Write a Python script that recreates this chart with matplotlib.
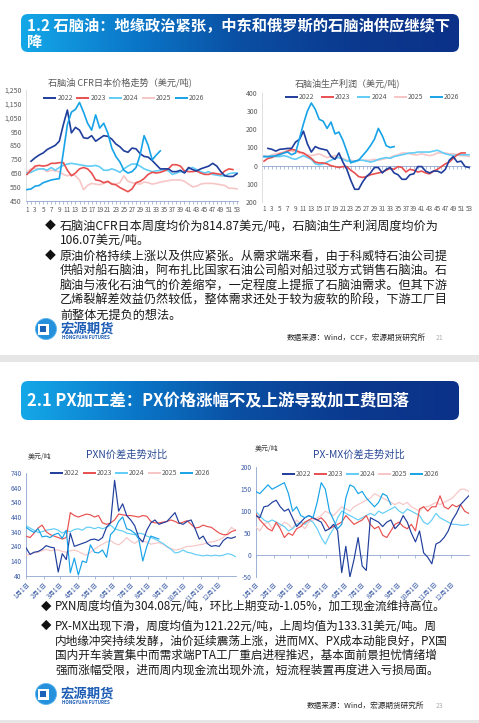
import numpy as np
import matplotlib
matplotlib.use('Agg')
import matplotlib.pyplot as plt
from matplotlib.colors import LinearSegmentedColormap
from matplotlib.patches import Rectangle, Circle, FancyBboxPatch
from matplotlib.transforms import blended_transform_factory

plt.rcParams['font.family'] = ['Noto Sans CJK SC', 'DejaVu Sans']
plt.rcParams['axes.unicode_minus'] = False

# ---------------- DATA ----------------
years = ['2022', '2023', '2024', '2025', '2026']
year_colors = {'2022': '#1f3e9c', '2023': '#e8504f', '2024': '#62cdf6',
               '2025': '#f7c6c6', '2026': '#17a3e8'}

# Naphtha CFR Japan weekly price (USD/t), weeks 1..53
cfr_2022 = [np.nan, 735, 760, 780, 795, 820, 835, 850, 880, 1000, 1105, 940, 980, 960, 905, 900, 920, 880,
            900, 920, 915, 895, 860, 840, 810, 800, 830, 825, 790, 770, 765, 740, 710, 680, 680, 680, 660,
            660, 670, 650, 690, 675, 665, 680, 690, 700, 720, 700, 660, 630, 625, 625, 645]
cfr_2023 = [640, 670, 700, 705, 700, 705, 720, 720, 725, 725, 670, 630, 650, 680, 690, 680, 650, 600, 595,
            580, 590, 570, 565, 545, 530, 515, 535, 580, 590, 610, 640, 655, 650, 655, 665, 680, 710, 710,
            700, 665, 660, 660, 665, 650, 640, 640, 650, 645, 640, 665, 680, 675, np.nan]
cfr_2024 = [650, 655, 670, 680, 680, 670, 690, 670, 690, 705, 715, 720, 715, 710, 705, 700, 700, 705, 695,
            670, 670, 680, 670, 655, 680, 700, 715, 715, 700, 680, 670, 660, 665, 670, 675, 665, 640, 650,
            660, 655, 680, 690, 675, 660, 650, 660, 640, 635, 630, 630, 645, 650, 650]
cfr_2025 = [660, 680, 685, 680, 680, 660, 670, 665, 660, 640, 630, 640, 630, 600, 530, 560, 575, 570, 565,
            575, 585, 575, 570, 580, 630, 590, 580, 575, 570, 585, 580, 570, 575, 585, 590, 595, 600, 600,
            600, 590, 570, 550, 555, 570, 575, 575, 575, 570, 565, 560, 540, 540, 535]
cfr_2026 = [530, 535, 555, 560, 580, 590, 600, 605, 610, 800, 1000, 1090, 1110, 1160, 1090, 1010, 960,
            1070, 975, 1010, 940, 830, 770, 730, 670, 650, 660, 690, 780, 920, 850, 745, 780, 810]

# Naphtha production profit weekly (USD/t), weeks 1..53
pf_2022 = [np.nan, 95, 90, 80, 90, 92, 95, 95, 130, 145, 190, 120, 75, 105, 95, 90, 85, 50, 35, 70, 20,
           -20, -80, -130, -130, -90, -60, -40, -10, -10, -40, -20, -10, -40, -50, -75, -75, -50, -45, -5,
           -5, -30, -40, -30, -30, -40, -20, 30, 50, 20, 25, -5, -10]
pf_2023 = [25, 40, 45, 55, 65, 70, 80, 90, 85, 75, 70, 55, 40, 20, 15, 15, 10, 0, -5, -10, -5, -5, -25,
           -40, -60, -65, -60, -50, -45, -40, -35, -25, -15, -20, -5, -10, -35, -20, -25, -35, -30, -40,
           -45, -30, -20, -5, 10, 20, 40, 60, 70, 70, np.nan]
pf_2024 = [50, 50, 55, 50, 50, 55, 50, 40, 35, 45, 55, 45, 35, 10, 5, 10, 20, 30, 40, 45, 35, 25, 25, 20,
           30, 30, 25, 20, 25, 35, 40, 45, 40, 50, 55, 60, 65, 70, 70, 75, 75, 75, 75, 80, 85, 75, 65, 60,
           55, 60, 60, 60, 60]
pf_2025 = [55, 50, 60, 65, 70, 75, 85, 80, 75, 70, 65, 60, 55, 60, 65, 55, 45, 50, 55, 45, 40, 30, 30, 25,
           30, 30, 30, 30, 35, 30, 35, 40, 45, 55, 60, 70, 70, 65, 60, 60, 65, 60, 55, 60, 70, 70, 70, 65,
           65, 60, 55, 55, 50]
pf_2026 = [50, 50, 50, 55, 60, 70, 75, 60, 70, 150, 230, 300, 345, 310, 255, 245, 205, 240, 175, 185, 140,
           80, 15, 25, 30, 55, 80, 110, 145, 205, 165, 110, 100, 105]

# PXN spread (weekly readings across the year)
pxn_2022 = [230, 185, 200, 205, 220, 245, 235, 230, 65, 190, 150, 330, 240, 250, 260, 270, 285, 290, 280,
            300, 370, 400, 690, 480, 530, 450, 420, 380, 300, 270, 350, 400, 420, 390, 400, 410, 440, 470,
            400, 390, 410, 420, 360, 290, 310, 260, 240, 245, 240, 280, 300, 295, 305]
pxn_2023 = [310, 300, 330, 365, 385, 340, 320, 310, 300, 290, 300, 470, 450, 440, 450, 460, 455, 440, 450,
            400, 390, 400, 420, 460, 455, 450, 450, 445, 440, 450, 445, 410, 400, 400, 405, 410, 420, 410,
            395, 405, 415, 390, 365, 370, 385, 375, 370, 350, 330, 320, 320, 340, 350]
pxn_2024 = [380, 365, 350, 335, 340, 350, 355, 360, 350, 330, 345, 340, 355, 360, 350, 370, 370, 360, 370,
            360, 370, 385, 360, 350, 345, 330, 325, 320, 330, 325, 310, 300, 290, 275, 260, 240, 220, 195,
            200, 215, 200, 195, 185, 180, 175, 180, 175, 180, 175, 180, 190, 185, 170]
pxn_2025 = [180, 185, 195, 200, 210, 220, 210, 215, 215, 205, 200, 210, 215, 205, 190, 180, 200, 220, 240,
            255, 270, 280, 260, 250, 270, 300, 275, 260, 280, 275, 270, 255, 260, 265, 255, 235, 225, 215,
            220, 230, 240, 240, 245, 250, 255, 265, 270, 275, 285, 300, 330, 370, 350]
pxn_2026 = [370, 350, 335, 360, 305, 310, 300, 320, 330, 295, 350, 60, 160, 45, 140, 130, 250, 200, 195,
            215, 165, 320, 350, 410, 440, 360, 350, 330, 290, 140, 240, 310, 300, 290]

# PX-MX spread (weekly readings across the year)
pxmx_2022 = [90, 85, 110, 112, 120, 125, 110, 100, 105, 85, 65, 75, 85, 90, 85, 80, 75, 55, 60, 70, 55, -40,
             20, -50, -10, 40, -25, -35, 85, 80, 75, 65, 75, 80, 60, 70, 90, 75, 50, 30, 55, 5, -5, -20, 25,
             30, 40, 55, 80, 95, 115, 125, 135]
pxmx_2023 = [95, 80, 70, 60, 55, 75, 60, 40, 50, 45, 60, 65, 75, 80, 85, 80, 85, 75, 60, 65, 70, 75, 90,
             80, 70, 75, 80, 90, 70, 60, 65, 45, 40, 55, 70, 75, 65, 60, 70, 55, 105, 110, 100, 110, 110,
             135, 110, 105, 115, 110, 115, 100, 95]
pxmx_2024 = [100, 90, 80, 75, 80, 75, 70, 65, 55, 60, 70, 75, 70, 80, 75, 60, 40, 25, 45, 60, 85, 100, 95,
             90, 85, 80, 85, 90, 95, 90, 100, 95, 100, 105, 110, 100, 95, 105, 100, 95, 90, 75, 70, 80, 95,
             85, 80, 75, 70, 70, 68, 68, 70]
pxmx_2025 = [65, 55, 70, 75, 60, 70, 65, 75, 70, 60, 80, 70, 60, 75, 80, 85, 90, 100, 95, 90, 100, 110, 105,
             100, 110, 115, 120, 125, 130, 140, 135, 130, 125, 120, 115, 120, 115, 120, 110, 105, 100, 110,
             110, 115, 120, 115, 120, 125, 130, 140, 150, 150, 145]
pxmx_2026 = [145, 140, 150, 160, 150, 155, 160, 165, 140, 100, 110, 90, 85, 90, 85, 120, 165, 150, 100, 80,
             60, 70, 130, 160, 155, 140, 145, 130, 120, 110, 120, 140, 135, 115]

cfr_yticks = [450, 550, 650, 750, 850, 950, 1050, 1150, 1250]
cfr_ylabels = ['450', '550', '650', '750', '850', '950', '1,050', '1,150', '1,250']
pf_yticks = [-200, -100, 0, 100, 200, 300, 400]
pf_ylabels = ['200', '100', '0', '100', '200', '300', '400']
pxn_yticks = [40, 140, 240, 340, 440, 540, 640, 740]
pxmx_yticks = [-50, 0, 50, 100, 150, 200]
month_days = [0, 31, 59, 90, 120, 151, 181, 212, 243, 273, 304, 334]
month_labels = ['1月1日', '2月1日', '3月1日', '4月1日', '5月1日', '6月1日', '7月1日', '8月1日',
                '9月1日', '10月1日', '11月1日', '12月1日']

title1 = '1.2 石脑油：地缘政治紧张，中东和俄罗斯的石脑油供应继续下'
title1b = '降'
title2 = '2.1 PX加工差：PX价格涨幅不及上游导致加工费回落'
text1 = [('◆', '石脑油CFR日本周度均价为814.87美元/吨，石脑油生产利润周度均价为'),
         ('', '106.07美元/吨。'),
         ('◆', '原油价格持续上涨以及供应紧张。从需求端来看，由于科威特石油公司提'),
         ('', '供船对船石脑油，阿布扎比国家石油公司船对船过驳方式销售石脑油。石'),
         ('', '脑油与液化石油气的价差缩窄，一定程度上提振了石脑油需求。但其下游'),
         ('', '乙烯裂解差效益仍然较低，整体需求还处于较为疲软的阶段，下游工厂目'),
         ('', '前整体无提负的想法。')]
text2 = [('◆', 'PXN周度均值为304.08元/吨，环比上期变动-1.05%，加工现金流维持高位。'),
         ('◆', 'PX-MX出现下滑，周度均值为121.22元/吨，上周均值为133.31美元/吨。周'),
         ('', '内地缘冲突持续发酵，油价延续震荡上涨，进而MX、PX成本动能良好，PX国'),
         ('', '国内开车装置集中而需求端PTA工厂重启进程推迟，基本面前景担忧情绪增'),
         ('', '强而涨幅受限，进而周内现金流出现外流，短流程装置再度进入亏损局面。')]

# ---------------- FIGURE ----------------
W, H = 479, 723
fig = plt.figure(figsize=(W / 100, H / 100), dpi=100)
fig.patch.set_facecolor('white')


def axpx(l, t, w, h, z=2):
    a = fig.add_axes([l / W, 1 - (t + h) / H, w / W, h / H])
    a.set_zorder(z)
    a.patch.set_alpha(0)
    return a


ov = axpx(0, 0, W, H, z=1)
ov.set_xlim(0, W)
ov.set_ylim(H, 0)
ov.axis('off')

# gray separators
ov.add_patch(Rectangle((0, 355), W, 7, color='#e6e6e6', lw=0))
ov.add_patch(Rectangle((0, 720), W, 3, color='#e6e6e6', lw=0))

hcmap = LinearSegmentedColormap.from_list('h', ['#14a8e8', '#0b78c9', '#0a4fa3', '#0b3a8f', '#0c3189'])
grad = np.linspace(0, 1, 256).reshape(1, -1)


def header(top, bottom):
    im = ov.imshow(grad, extent=[21, 459, bottom, top], cmap=hcmap, aspect='auto', zorder=1)
    clip = FancyBboxPatch((21, top), 438, bottom - top, boxstyle='round,pad=0,rounding_size=7',
                          transform=ov.transData, facecolor='none', edgecolor='none')
    ov.add_patch(clip)
    im.set_clip_path(clip)


header(14, 52)
header(381, 420)
ov.text(27, 26, title1, color='white', fontsize=11.0, fontweight='bold', va='center', ha='left', zorder=3)
ov.text(27, 42.5, title1b, color='white', fontsize=11.0, fontweight='bold', va='center', ha='left', zorder=3)
ov.text(27, 401, title2, color='white', fontsize=11.8, fontweight='bold', va='center', ha='left', zorder=3)


def legend(x0, dx, y, seglen=13):
    for i, yr in enumerate(years):
        x = x0 + i * dx
        ov.plot([x, x + seglen], [y, y], color=year_colors[yr], lw=1.4, solid_capstyle='butt', zorder=3)
        ov.text(x + seglen + 1, y, yr, fontsize=5, color='#595959', va='center', ha='left', zorder=3)


def logo(cy):
    ov.add_patch(Circle((46, cy), 10.5, color='#2590dc', lw=0, zorder=3))
    ov.add_patch(Circle((46, cy), 10.5, fill=False, ec='#5bb5ee', lw=0.6, zorder=3))
    ov.add_patch(Rectangle((38, cy - 5.5), 11, 11, color='white', lw=0, zorder=4))
    ov.add_patch(Rectangle((40.5, cy - 3), 6, 6, color='#1a63b8', lw=0, zorder=5))
    ov.text(61, cy - 0.5, '宏源期货', fontsize=9.6, fontweight='bold', color='#1c5cb5', va='center', ha='left', zorder=3)
    ov.text(62, cy + 8.8, 'HONGYUAN FUTURES', fontsize=3.3, fontweight='bold', color='#1c5cb5', va='center', ha='left', zorder=3)


def body(lines, ys, fs, xb, xt):
    for (b, t), y in zip(lines, ys):
        if b:
            ov.text(xb, y, b, fontsize=fs * 0.9, color='#111111', va='center', ha='left', zorder=3)
        ov.text(xt, y, t, fontsize=fs, color='#1a1a1a', va='center', ha='left', zorder=3)


def plot_years(ax, x, series, lw):
    order = ['2025', '2024', '2023', '2022', '2026']
    for yr in order:
        v = series[yr]
        ax.plot(x[:len(v)], v, color=year_colors[yr], lw=lw, zorder=3)


# ---------- Chart 1: CFR Japan ----------
weeks = np.arange(1, 54)
ax1 = axpx(26, 90, 212, 110.7)
plot_years(ax1, weeks, {'2022': cfr_2022, '2023': cfr_2023, '2024': cfr_2024,
                        '2025': cfr_2025, '2026': cfr_2026}, 1.2)
ax1.set_xlim(0.75, 53.25)
ax1.set_ylim(450, 1250)
ax1.set_yticks(cfr_yticks)
ax1.set_yticklabels(cfr_ylabels)
ax1.set_xticks(weeks)
ax1.set_xticklabels([str(w) if w % 2 == 1 else '' for w in weeks])
for s in ['top', 'right']:
    ax1.spines[s].set_visible(False)
ax1.spines['left'].set_color('#d9d9d9')
ax1.spines['bottom'].set_color('#8ea4cf')
ax1.spines['left'].set_linewidth(0.6)
ax1.spines['bottom'].set_linewidth(0.6)
ax1.tick_params(axis='y', length=0, labelsize=5, labelcolor='#595959', pad=3)
ax1.tick_params(axis='x', length=2, width=0.5, color='#8ea4cf', labelsize=4.6, labelcolor='#595959', pad=1.5)
ov.text(120, 82, '石脑油 CFR日本价格走势（美元/吨)', fontsize=6.6, color='#595959', ha='center', va='center', zorder=3)
legend(43.5, 32.8, 98)

# ---------- Chart 2: profit ----------
ax2 = axpx(262, 93, 208, 109)
plot_years(ax2, weeks, {'2022': pf_2022, '2023': pf_2023, '2024': pf_2024,
                        '2025': pf_2025, '2026': pf_2026}, 1.2)
ax2.set_xlim(0.49, 53.25)
ax2.set_ylim(-200, 400)
ax2.set_yticks(pf_yticks)
ax2.set_yticklabels(pf_ylabels)
for s in ['top', 'right']:
    ax2.spines[s].set_visible(False)
ax2.spines['bottom'].set_position(('data', 0))
ax2.spines['bottom'].set_color('#8ea4cf')
ax2.spines['bottom'].set_linewidth(0.6)
ax2.spines['left'].set_color('#d9d9d9')
ax2.spines['left'].set_linewidth(0.6)
ax2.set_xticks(weeks)
ax2.tick_params(axis='x', length=2, width=0.5, color='#8ea4cf', labelbottom=False)
ax2.tick_params(axis='y', length=0, labelsize=5, labelcolor='#595959', pad=3)
tr2 = blended_transform_factory(ax2.transData, ax2.transAxes)
for w in weeks:
    if w % 2 == 1:
        ax2.text(w, -0.025, str(w), transform=tr2, fontsize=4.6, color='#595959', ha='center', va='top')
ov.text(348, 83, '石脑油生产利润（美元/吨)', fontsize=6.5, color='#595959', ha='center', va='center', zorder=3)
legend(285, 36.2, 97)

# text slide 1
body(text1, [226, 241, 256, 270.7, 285.3, 300, 314.8], 8.7, 45, 60)
logo(329)
ov.text(287, 338, '数据来源：Wind，CCF，宏源期货研究所', fontsize=5.5, color='#262626', ha='left', va='center', zorder=3)
ov.text(436, 338, '21', fontsize=5, color='#b0b0b0', ha='left', va='center', zorder=3)

# ---------- Chart 3: PXN ----------
days = np.arange(53) * 7
ax3 = axpx(26, 473, 210, 102.7)
plot_years(ax3, days, {'2022': pxn_2022, '2023': pxn_2023, '2024': pxn_2024,
                       '2025': pxn_2025, '2026': pxn_2026}, 0.85)
ax3.set_xlim(0, 365)
ax3.set_ylim(40, 740)
ax3.set_yticks(pxn_yticks)
ax3.set_xticks(month_days)
ax3.set_xticklabels(month_labels, rotation=45, ha='right', va='top', rotation_mode='anchor')
for s in ['top', 'right']:
    ax3.spines[s].set_visible(False)
for s in ['left', 'bottom']:
    ax3.spines[s].set_color('#8ea4cf')
    ax3.spines[s].set_linewidth(0.6)
ax3.tick_params(axis='y', length=0, labelsize=4.8, labelcolor='#3f5fa8', pad=3)
ax3.tick_params(axis='x', length=2, width=0.5, color='#8ea4cf', labelsize=4.6, labelcolor='#3f5fa8', pad=1.5)
ov.text(127, 455, 'PXN价差走势对比', fontsize=7.4, color='#2a4a96', ha='center', va='center', zorder=3)
ov.text(40, 457, '美元/吨', fontsize=5, color='#404040', ha='center', va='center', zorder=3)
legend(50, 32.6, 473)

# ---------- Chart 4: PX-MX ----------
ax4 = axpx(255.7, 467.3, 213.6, 109.7)
plot_years(ax4, days, {'2022': pxmx_2022, '2023': pxmx_2023, '2024': pxmx_2024,
                       '2025': pxmx_2025, '2026': pxmx_2026}, 0.85)
ax4.set_xlim(0, 365)
ax4.set_ylim(-50, 200)
ax4.set_yticks(pxmx_yticks)
for s in ['top', 'right']:
    ax4.spines[s].set_visible(False)
ax4.spines['bottom'].set_position(('data', 0))
for s in ['left', 'bottom']:
    ax4.spines[s].set_color('#8ea4cf')
    ax4.spines[s].set_linewidth(0.6)
ax4.set_xticks(month_days)
ax4.tick_params(axis='x', length=2, width=0.5, color='#8ea4cf', labelbottom=False)
ax4.tick_params(axis='y', length=0, labelsize=4.8, labelcolor='#3f5fa8', pad=3)
tr4 = blended_transform_factory(ax4.transData, ax4.transAxes)
for d, lab in zip(month_days, month_labels):
    ax4.text(d, -0.03, lab, transform=tr4, fontsize=4.6, color='#3f5fa8', rotation=45,
             ha='right', va='top', rotation_mode='anchor')
ov.text(359, 455, 'PX-MX价差走势对比', fontsize=7.4, color='#2a4a96', ha='center', va='center', zorder=3)
ov.text(267, 449, '美元/吨', fontsize=5, color='#404040', ha='center', va='center', zorder=3)
legend(282, 32.0, 474)

# text slide 2
body(text2, [607, 626, 641, 655.5, 670], 8.4, 41, 55)
logo(694)
ov.text(307, 706, '数据来源：Wind，宏源期货研究所', fontsize=5.5, color='#262626', ha='left', va='center', zorder=3)
ov.text(436, 706, '23', fontsize=5, color='#b0b0b0', ha='left', va='center', zorder=3)

fig.savefig('out.png', dpi=100, facecolor='white')
